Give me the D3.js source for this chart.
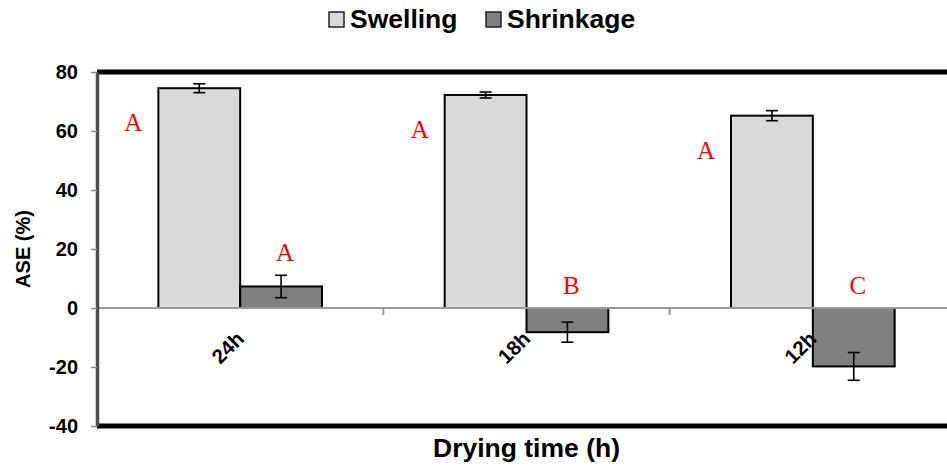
<!DOCTYPE html>
<html>
<head>
<meta charset="utf-8">
<script src="https://cdn.jsdelivr.net/npm/d3@7"></script>
<style>
  html, body { margin: 0; padding: 0; background: #fff; }
  svg { display: block; }
  text { font-family: "Liberation Sans", Arial, sans-serif; }
</style>
</head>
<body>
<svg id="chart" width="947" height="466"></svg>
<script>
// Anti-swelling efficiency by drying time
const categories = ["24h", "18h", "12h"];
const seriesNames = ["Swelling", "Shrinkage"];
const swellingValues = [74.5, 72.2, 65.2];
const swellingErrors = [1.5, 1.0, 1.7];
const shrinkageValues = [7.3, -8.2, -19.8];
const shrinkageErrors = [3.8, 3.4, 4.7];
const swellingLetters = ["A", "A", "A"];
const shrinkageLetters = ["A", "B", "C"];
const yTicks = [-40, -20, 0, 20, 40, 60, 80];

const fills = { Swelling: "#d9d9d9", Shrinkage: "#808080" };

const svg = d3.select("#chart");
const plot = { left: 97, right: 956, top: 72, bottom: 426 };

const x0 = d3.scaleBand().domain(categories).range([plot.left, plot.right]).padding(0);
const x1 = d3.scaleBand().domain(seriesNames).range([0, x0.bandwidth()])
  .paddingInner(0).paddingOuter(0.75);
const y = d3.scaleLinear().domain([-40, 80]).range([plot.bottom, plot.top]);

const rows = categories.map((c, i) => ({
  cat: c,
  bars: [
    { key: "Swelling", value: swellingValues[i], err: swellingErrors[i], letter: swellingLetters[i] },
    { key: "Shrinkage", value: shrinkageValues[i], err: shrinkageErrors[i], letter: shrinkageLetters[i] }
  ]
}));

// Bars
const groups = svg.append("g").selectAll("g").data(rows).join("g")
  .attr("transform", d => `translate(${x0(d.cat)},0)`);

groups.selectAll("rect").data(d => d.bars).join("rect")
  .attr("x", d => x1(d.key))
  .attr("width", x1.bandwidth())
  .attr("y", d => y(Math.max(0, d.value)))
  .attr("height", d => Math.abs(y(d.value) - y(0)))
  .attr("fill", d => fills[d.key])
  .attr("stroke", "#000")
  .attr("stroke-width", 2);

// Error bars
const eb = groups.selectAll("g.err").data(d => d.bars).join("g").attr("class", "err")
  .attr("stroke", "#000").attr("stroke-width", 1.6);
eb.append("line")
  .attr("x1", d => x1(d.key) + x1.bandwidth() / 2)
  .attr("x2", d => x1(d.key) + x1.bandwidth() / 2)
  .attr("y1", d => y(d.value + d.err))
  .attr("y2", d => y(d.value - d.err));
eb.selectAll("line.cap").data(d => [d.value + d.err, d.value - d.err].map(v => ({ d, v })))
  .join("line").attr("class", "cap")
  .attr("x1", o => x1(o.d.key) + x1.bandwidth() / 2 - 6)
  .attr("x2", o => x1(o.d.key) + x1.bandwidth() / 2 + 6)
  .attr("y1", o => y(o.v))
  .attr("y2", o => y(o.v));

// Significance letters
groups.selectAll("text.sig").data(d => d.bars).join("text").attr("class", "sig")
  .attr("x", d => d.key === "Swelling"
    ? x1(d.key) - 25
    : x1(d.key) + x1.bandwidth() / 2 + 4)
  .attr("y", d => d.key === "Swelling"
    ? y(d.value) + 43
    : Math.min(y(0), y(d.value + d.err)) - 14)
  .attr("text-anchor", "middle")
  .attr("fill", "#ff0000")
  .style("font-family", "'Liberation Serif', 'Times New Roman', serif")
  .style("font-size", "25px")
  .text(d => d.letter);

// Zero line
svg.append("line")
  .attr("x1", plot.left).attr("x2", plot.right)
  .attr("y1", y(0)).attr("y2", y(0))
  .attr("stroke", "#999").attr("stroke-width", 2);

// Category boundary ticks on the zero line
svg.append("g").selectAll("line").data(categories.slice(1)).join("line")
  .attr("x1", d => x0(d)).attr("x2", d => x0(d))
  .attr("y1", y(0)).attr("y2", y(0) + 7)
  .attr("stroke", "#999").attr("stroke-width", 2);

// Category labels
svg.append("g").selectAll("text").data(categories).join("text")
  .attr("transform", d => `translate(${x0(d) + x0.bandwidth() / 2},335) rotate(-45)`)
  .attr("text-anchor", "end")
  .attr("dy", "0.35em")
  .style("font-size", "20.5px")
  .style("font-weight", "bold")
  .text(d => d);

// Frame: thick top and bottom borders
svg.append("line").attr("x1", plot.left).attr("x2", plot.right)
  .attr("y1", plot.top).attr("y2", plot.top)
  .attr("stroke", "#000").attr("stroke-width", 5);
svg.append("line").attr("x1", plot.left).attr("x2", plot.right)
  .attr("y1", plot.bottom).attr("y2", plot.bottom)
  .attr("stroke", "#000").attr("stroke-width", 5);

// Y axis (plain hyphen for negatives)
const yAxis = svg.append("g")
  .attr("transform", `translate(${plot.left},0)`)
  .call(d3.axisLeft(y).tickValues(yTicks).tickFormat(d => String(d))
    .tickSize(6).tickPadding(13).tickSizeOuter(0));
yAxis.select(".domain").attr("stroke", "#4d4d4d").attr("stroke-width", 3.5);
yAxis.selectAll(".tick line").attr("stroke", "#888").attr("stroke-width", 1.5);
yAxis.selectAll(".tick text")
  .style("font-size", "20px").style("font-weight", "bold").attr("fill", "#000");

// Axis titles
svg.append("text")
  .attr("transform", `translate(30,${(plot.top + plot.bottom) / 2}) rotate(-90)`)
  .attr("text-anchor", "middle")
  .style("font-size", "20px").style("font-weight", "bold")
  .text("ASE (%)");

svg.append("text")
  .attr("x", (plot.left + plot.right) / 2)
  .attr("y", 457)
  .attr("text-anchor", "middle")
  .style("font-size", "26.5px").style("font-weight", "bold")
  .text("Drying time (h)");

// Legend
const legend = svg.append("g");
const legendItems = [
  { key: "Swelling", x: 329 },
  { key: "Shrinkage", x: 486 }
];
const li = legend.selectAll("g").data(legendItems).join("g")
  .attr("transform", d => `translate(${d.x},12)`);
li.append("rect").attr("width", 15).attr("height", 15)
  .attr("fill", d => fills[d.key]).attr("stroke", "#222").attr("stroke-width", 1.5);
li.append("text").attr("x", 21).attr("y", 15.5)
  .style("font-size", "26.5px").style("font-weight", "bold")
  .text(d => d.key);
</script>
</body>
</html>
